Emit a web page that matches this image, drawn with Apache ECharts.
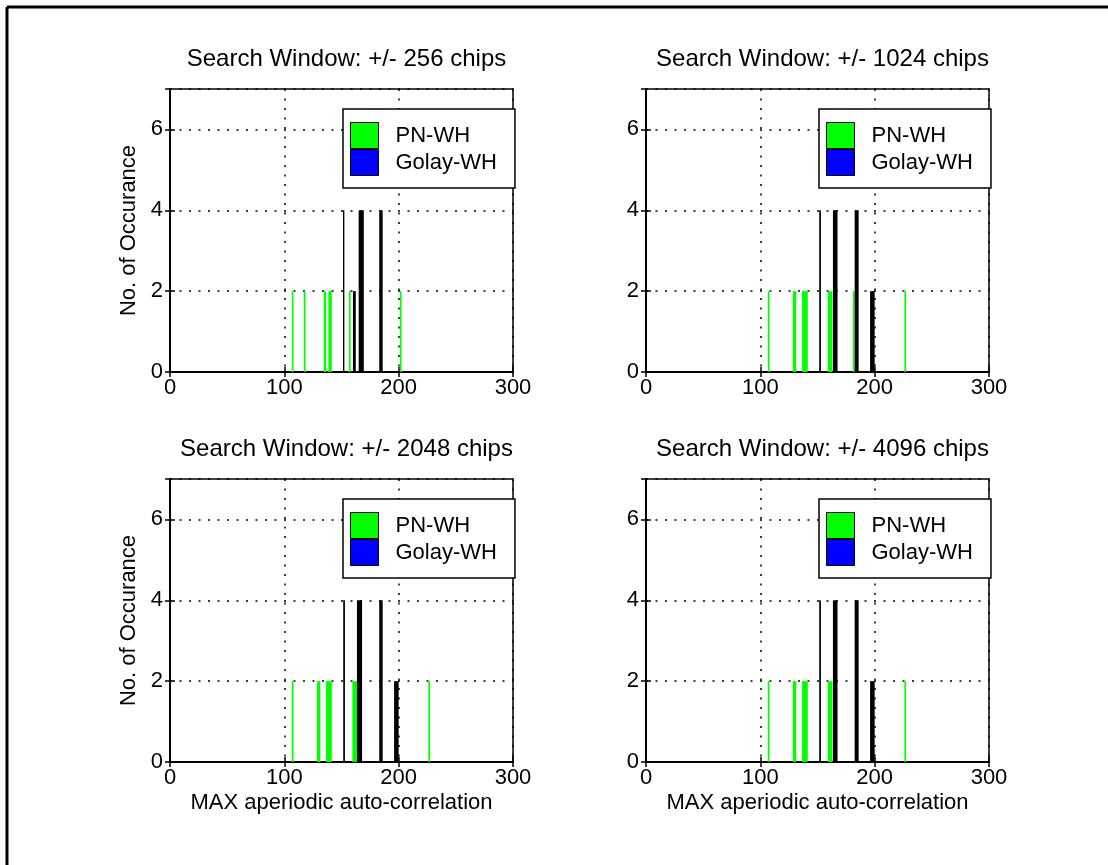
<!DOCTYPE html>
<html>
<head>
<meta charset="utf-8">
<script src="https://cdn.jsdelivr.net/npm/echarts@6/dist/echarts.min.js"></script>
<style>
  html, body { margin: 0; padding: 0; background: #fff; }
  #chart { width: 1108px; height: 865px; }
</style>
</head>
<body>
<div id="chart"></div>
<script>
// ---- data: each bar is [start, end, count] ----
const titles = [
  'Search Window: +/- 256 chips',
  'Search Window: +/- 1024 chips',
  'Search Window: +/- 2048 chips',
  'Search Window: +/- 4096 chips'
];
const seriesNames = ['PN-WH', 'Golay-WH'];
const xTickLabels = [0, 100, 200, 300];
const yTickLabels = [0, 2, 4, 6];
const xLabel = 'MAX aperiodic auto-correlation';
const yLabel = 'No. of Occurance';

const pn256 = [[106.5,108,2],[117,118.5,2],[134.5,136.5,2],[138.5,141.5,2],[156.5,158,2],[201,202.5,2]];
const golay256 = [[151.3,152.5,4],[160,162.5,2],[165,169.5,4],[183,186,4]];

const pn1024 = [[106.5,108,2],[128.5,131.5,2],[136.5,141.5,2],[159,163,2],[181,182.5,2],[226,227.5,2]];
const golay1024 = [[151.5,153,4],[163.5,167.5,4],[182.5,186,4],[196,200,2]];

const pn2048 = [[106.5,108,2],[128.5,131.5,2],[136.5,141.5,2],[159.5,163.5,2],[226,227.5,2]];
const golay2048 = [[151.5,153,4],[163.5,168,4],[183,186,4],[196,200,2]];

const pn4096 = [[106.5,108,2],[128.5,131.5,2],[136.5,141.5,2],[159,163,2],[226,227.5,2]];
const golay4096 = [[151.5,153,4],[163.5,167.5,4],[182.5,186,4],[196,200,2]];

const pnSets = [pn256, pn1024, pn2048, pn4096];
const golaySets = [golay256, golay1024, golay2048, golay4096];

// ---- layout ----
const FONT = 'Liberation Sans, Arial, sans-serif';
const gridPos = [
  { left: 170, top: 89 },
  { left: 646, top: 89 },
  { left: 170, top: 479 },
  { left: 646, top: 479 }
];
const GW = 343, GH = 283;

const grids = [], xAxes = [], yAxes = [], series = [], titleOpts = [], legends = [];

function renderBar(fillColor) {
  return function (params, api) {
    const x0 = api.value(0), x1 = api.value(1), c = api.value(2);
    const p0 = api.coord([x0, 0]);
    const p1 = api.coord([x1, c]);
    let x = p0[0], w = p1[0] - p0[0];
    if (w < 1.4) { x = (p0[0] + p1[0]) / 2 - 0.7; w = 1.4; }
    return {
      type: 'rect',
      shape: { x: x, y: p1[1], width: w, height: p0[1] - p1[1] },
      style: { fill: fillColor }
    };
  };
}

gridPos.forEach((g, i) => {
  grids.push({
    left: g.left, top: g.top, width: GW, height: GH,
    show: true, borderColor: '#000', borderWidth: 1.5, backgroundColor: '#fff'
  });
  const isBottom = i >= 2, isLeft = i % 2 === 0;
  xAxes.push({
    type: 'value', gridIndex: i, min: 0, max: 300, interval: 100,
    position: 'bottom',
    axisLine: { show: true, lineStyle: { color: '#000', width: 1.5 } },
    axisTick: { show: true, inside: true, length: 5, lineStyle: { color: '#000', width: 1.5 } },
    axisLabel: { show: true, color: '#000', fontSize: 22, fontFamily: FONT, margin: 5,
      formatter: v => xTickLabels.includes(v) ? String(v) : '' },
    splitLine: { show: true, lineStyle: { color: '#000', type: [2, 7.5], width: 1.5 } },
    name: isBottom ? xLabel : '', nameLocation: 'middle', nameGap: 30,
    nameTextStyle: { color: '#000', fontSize: 22, fontFamily: FONT }
  });
  xAxes.push({
    type: 'value', gridIndex: i, min: 0, max: 300, interval: 100,
    position: 'top',
    axisLine: { show: true, lineStyle: { color: '#000', width: 1.5 } },
    axisTick: { show: true, inside: true, length: 5, lineStyle: { color: '#000', width: 1.5 } },
    axisLabel: { show: false }, splitLine: { show: false }
  });
  yAxes.push({
    type: 'value', gridIndex: i, min: 0, max: 7, interval: 2,
    position: 'left',
    axisLine: { show: true, lineStyle: { color: '#000', width: 1.5 } },
    axisTick: { show: true, inside: true, length: 5, lineStyle: { color: '#000', width: 1.5 } },
    axisLabel: { show: true, color: '#000', fontSize: 22, fontFamily: FONT, margin: 7,
      showMaxLabel: false,
      formatter: v => yTickLabels.includes(v) ? String(v) : '' },
    splitLine: { show: true, lineStyle: { color: '#000', type: [2, 7.5], width: 1.5 } },
    name: isLeft ? yLabel : '', nameLocation: 'middle', nameGap: 30, nameRotate: 90,
    nameTextStyle: { color: '#000', fontSize: 22, fontFamily: FONT }
  });
  yAxes.push({
    type: 'value', gridIndex: i, min: 0, max: 7, interval: 2,
    position: 'right',
    axisLine: { show: true, lineStyle: { color: '#000', width: 1.5 } },
    axisTick: { show: true, inside: true, length: 5, lineStyle: { color: '#000', width: 1.5 } },
    axisLabel: { show: false }, splitLine: { show: false }
  });

  series.push({
    type: 'custom', name: seriesNames[0],
    xAxisIndex: 2 * i, yAxisIndex: 2 * i,
    itemStyle: { color: '#00ff00', borderColor: '#000', borderWidth: 1 },
    encode: { x: [0, 1], y: 2 },
    renderItem: renderBar('#00ff00'),
    data: pnSets[i], silent: true, animation: false
  });
  series.push({
    type: 'custom', name: seriesNames[1],
    xAxisIndex: 2 * i, yAxisIndex: 2 * i,
    itemStyle: { color: '#0000ff', borderColor: '#000', borderWidth: 1 },
    encode: { x: [0, 1], y: 2 },
    renderItem: renderBar('#000000'),
    data: golaySets[i], silent: true, animation: false
  });

  titleOpts.push({
    text: titles[i],
    left: g.left + GW / 2, top: g.top - 47, textAlign: 'center',
    textStyle: { color: '#000', fontSize: 24, fontWeight: 'normal', fontFamily: FONT }
  });

  legends.push({
    data: seriesNames.map(n => ({ name: n, icon: 'rect' })),
    orient: 'vertical',
    left: g.left + 173, top: g.top + 20,
    padding: [13, 18, 12, 7],
    itemWidth: 28, itemHeight: 26, itemGap: 0,
    backgroundColor: '#fff', borderColor: '#000', borderWidth: 1.5,
    selectedMode: false,
    itemStyle: { borderColor: '#000', borderWidth: 1 },
    textStyle: { color: '#000', fontSize: 22, fontFamily: FONT, lineHeight: 26, padding: [0, 0, 0, 12] }
  });
});

const chart = echarts.init(document.getElementById('chart'), null, { renderer: 'canvas' });
chart.setOption({
  backgroundColor: '#fff',
  animation: false,
  title: titleOpts,
  legend: legends,
  grid: grids,
  xAxis: xAxes,
  yAxis: yAxes,
  series: series,
  graphic: [
    { type: 'line', silent: true, shape: { x1: 7, y1: 7, x2: 1108, y2: 7 }, style: { stroke: '#000', lineWidth: 3 } },
    { type: 'line', silent: true, shape: { x1: 7, y1: 7, x2: 7, y2: 865 }, style: { stroke: '#000', lineWidth: 3 } }
  ]
});
</script>
</body>
</html>
